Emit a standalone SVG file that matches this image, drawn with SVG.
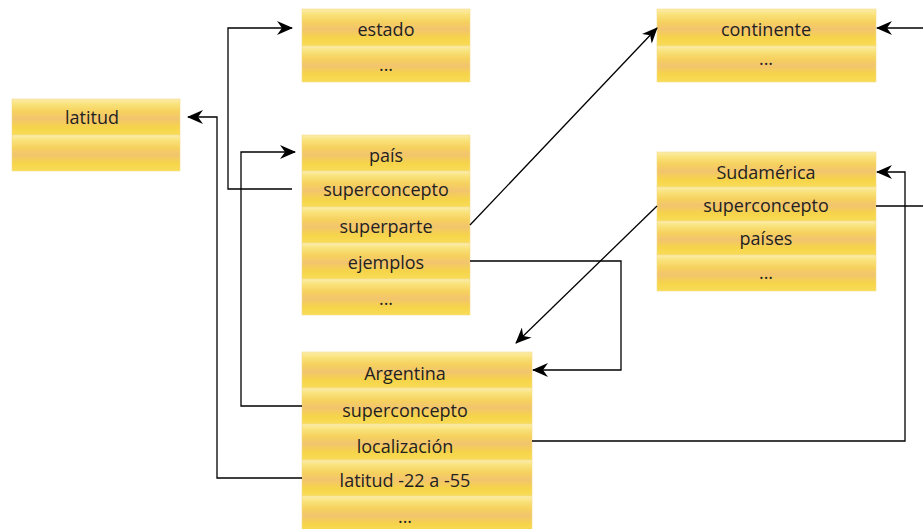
<svg xmlns="http://www.w3.org/2000/svg" width="923" height="529" viewBox="0 0 923 529">
<defs>
<linearGradient id="band" x1="0" y1="0" x2="0" y2="1">
<stop offset="0" stop-color="#fcedab"/>
<stop offset="0.15" stop-color="#f9e27a"/>
<stop offset="0.35" stop-color="#f6d15e"/>
<stop offset="0.55" stop-color="#f2c46e"/>
<stop offset="0.78" stop-color="#f6d44a"/>
<stop offset="1" stop-color="#f8dc56"/>
</linearGradient>
<marker id="ah" viewBox="0 0 16 14" refX="15" refY="7" markerWidth="16" markerHeight="14" markerUnits="userSpaceOnUse" orient="auto">
<path d="M0,0 L16,7 L0,14 L5,7 z" fill="#000"/>
</marker>
</defs>
<style>
.row{fill:url(#band);stroke:#f5dc8a;stroke-width:0.6}
text{font-family:"Open Sans","Liberation Sans",sans-serif;font-size:18px;fill:#231f20;text-anchor:middle;dominant-baseline:central}
.c{fill:none;stroke:#000;stroke-width:1.3}
.a{marker-end:url(#ah)}
</style>
<rect width="923" height="529" fill="#fff"/>

<g id="estado">
<rect class="row" x="302" y="9" width="168" height="37"/>
<rect class="row" x="302" y="46" width="168" height="36"/>
<text x="386" y="29">estado</text>
<text x="386" y="64">...</text>
</g>

<g id="latitud">
<rect class="row" x="12" y="99" width="168" height="36"/>
<rect class="row" x="12" y="135" width="168" height="36"/>
<text x="92" y="117">latitud</text>
</g>

<g id="pais">
<rect class="row" x="302" y="135" width="168" height="36"/>
<rect class="row" x="302" y="171" width="168" height="36"/>
<rect class="row" x="302" y="207" width="168" height="36"/>
<rect class="row" x="302" y="243" width="168" height="36"/>
<rect class="row" x="302" y="279" width="168" height="36"/>
<text x="386" y="155">país</text>
<text x="386" y="189">superconcepto</text>
<text x="386" y="226">superparte</text>
<text x="386" y="262">ejemplos</text>
<text x="386" y="298">...</text>
</g>

<g id="continente">
<rect class="row" x="657" y="9" width="219" height="37"/>
<rect class="row" x="657" y="46" width="219" height="36"/>
<text x="766" y="29">continente</text>
<text x="766" y="58">...</text>
</g>

<g id="sudamerica">
<rect class="row" x="657" y="152" width="219" height="35"/>
<rect class="row" x="657" y="187" width="219" height="34"/>
<rect class="row" x="657" y="221" width="219" height="34"/>
<rect class="row" x="657" y="255" width="219" height="36"/>
<text x="766" y="172">Sudamérica</text>
<text x="766" y="205">superconcepto</text>
<text x="766" y="238">países</text>
<text x="766" y="272">...</text>
</g>

<g id="argentina">
<rect class="row" x="302" y="352" width="230" height="36"/>
<rect class="row" x="302" y="388" width="230" height="36"/>
<rect class="row" x="302" y="424" width="230" height="36"/>
<rect class="row" x="302" y="460" width="230" height="36"/>
<rect class="row" x="302" y="496" width="230" height="36"/>
<text x="405" y="373">Argentina</text>
<text x="405" y="410">superconcepto</text>
<text x="405" y="446">localización</text>
<text x="405" y="480">latitud -22 a -55</text>
<text x="405" y="516">...</text>
</g>

<g id="connectors">
<path class="c a" d="M292,189 H228 V28 H292"/>
<path class="c a" d="M302,406 H241 V152 H295"/>
<path class="c a" d="M302,478 H217 V117 H188"/>
<path class="c a" d="M470,225 L657,28"/>
<path class="c a" d="M923,28 H877"/>
<path class="c" d="M876,206 H923"/>
<path class="c a" d="M532,441 H905 V172 H877"/>
<path class="c a" d="M657,206 L516,343"/>
<path class="c a" d="M470,261 H621 V370 H533"/>
</g>
</svg>
